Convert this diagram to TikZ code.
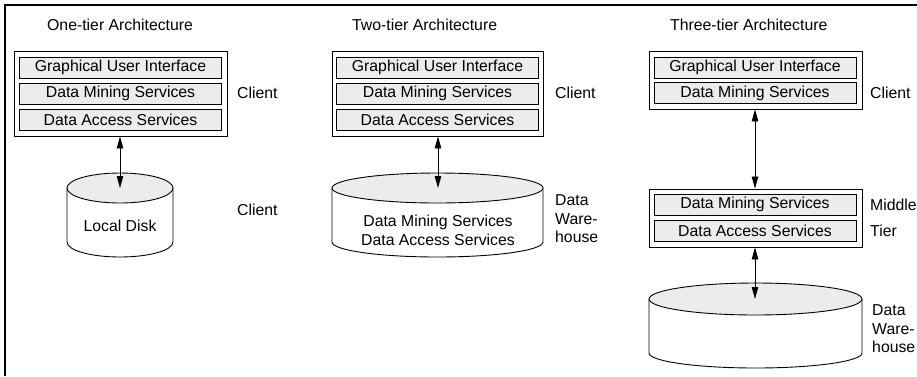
\documentclass[tikz,border=0pt]{standalone}
\usepackage{fontspec}
\setmainfont{Liberation Sans}
\usetikzlibrary{arrows.meta}
\begin{document}
\begin{tikzpicture}[x=1pt,y=-1pt,
  font=\fontsize{15.8}{18.5}\selectfont,
  outerbox/.style={draw, line width=0.9pt, minimum width=213pt, inner sep=0pt},
  layerbox/.style={draw, line width=0.7pt, fill=gray!15, minimum width=202pt, minimum height=21pt, inner sep=0pt},
  lbl/.style={anchor=west, inner sep=0pt, align=left},
  ttl/.style={anchor=west, inner sep=0pt},
  linkarrow/.style={line width=0.8pt, {Triangle[length=12pt,width=6.5pt]}-{Triangle[length=12pt,width=6.5pt]}},
  disktop/.style={draw, line width=0.9pt, fill=gray!15},
  diskbody/.style={draw, line width=0.9pt}
]
\useasboundingbox (0,0) rectangle (917,376);
% frame
\draw[line width=2pt] (5,376) -- (5,5) -- (917,5);

% ---------- One-tier ----------
\node[ttl] (t1) at (47,25) {One-tier Architecture};
\node[outerbox, minimum height=85pt] (c1) at (120.5,93.5) {};
\node[layerbox] (c1gui) at (120.5,67.5) {Graphical User Interface};
\node[layerbox] (c1dms) at (120.5,93.5) {Data Mining Services};
\node[layerbox] (c1das) at (120.5,119.5) {Data Access Services};
\node[lbl] (l1a) at (237,93) {Client};
% disk
\draw[diskbody] (67,188) -- (67,242) arc[start angle=180, end angle=0, x radius=53, y radius=15] -- (173,188);
\draw[disktop] (120,188) ellipse [x radius=53, y radius=15];
\coordinate (d1) at (120,188);
\node (d1txt) at (120,226) {Local Disk};
\node[lbl] (l1b) at (237,210) {Client};
\draw[linkarrow] (c1.south -| d1) -- (d1);

% ---------- Two-tier ----------
\node[ttl] (t2) at (352,25) {Two-tier Architecture};
\node[outerbox, minimum width=211pt, minimum height=85pt] (c2) at (437.5,93.5) {};
\node[layerbox] (c2gui) at (437.5,67.5) {Graphical User Interface};
\node[layerbox] (c2dms) at (437.5,93.5) {Data Mining Services};
\node[layerbox] (c2das) at (437.5,119.5) {Data Access Services};
\node[lbl] (l2a) at (555,93) {Client};
\draw[diskbody] (332,188) -- (332,242) arc[start angle=180, end angle=0, x radius=105.5, y radius=15] -- (543,188);
\draw[disktop] (437.5,188) ellipse [x radius=105.5, y radius=15];
\coordinate (d2) at (438,188);
\node[align=center, inner sep=0pt] (d2txt) at (438,230.5) {Data Mining Services\\Data Access Services};
\node[lbl] (l2b) at (555,219) {Data\\Ware-\\house};
\draw[linkarrow] (c2.south -| d2) -- (d2);

% ---------- Three-tier ----------
\node[ttl] (t3) at (670,25) {Three-tier Architecture};
\node[outerbox, minimum height=58pt] (c3) at (755.5,80) {};
\node[layerbox] (c3gui) at (755,67.5) {Graphical User Interface};
\node[layerbox] (c3dms) at (755,93) {Data Mining Services};
\node[lbl] (l3a) at (870,93) {Client};
\node[outerbox, minimum height=58pt] (m3) at (755.5,218) {};
\node[layerbox] (m3dms) at (755,204.5) {Data Mining Services};
\node[layerbox] (m3das) at (755,231) {Data Access Services};
\node[lbl, align=left] (l3b) at (870,218) {Middle\\[7pt]Tier};
\draw[diskbody] (649,299) -- (649,353) arc[start angle=180, end angle=0, x radius=106.5, y radius=15] -- (862,299);
\draw[disktop] (755.5,299) ellipse [x radius=106.5, y radius=16];
\coordinate (d3) at (755,299);
\node[lbl] (l3c) at (872,329) {Data\\Ware-\\house};
\draw[linkarrow] (c3.south -| d3) -- (m3.north -| d3);
\draw[linkarrow] (m3.south -| d3) -- (d3);
\end{tikzpicture}
\end{document}
